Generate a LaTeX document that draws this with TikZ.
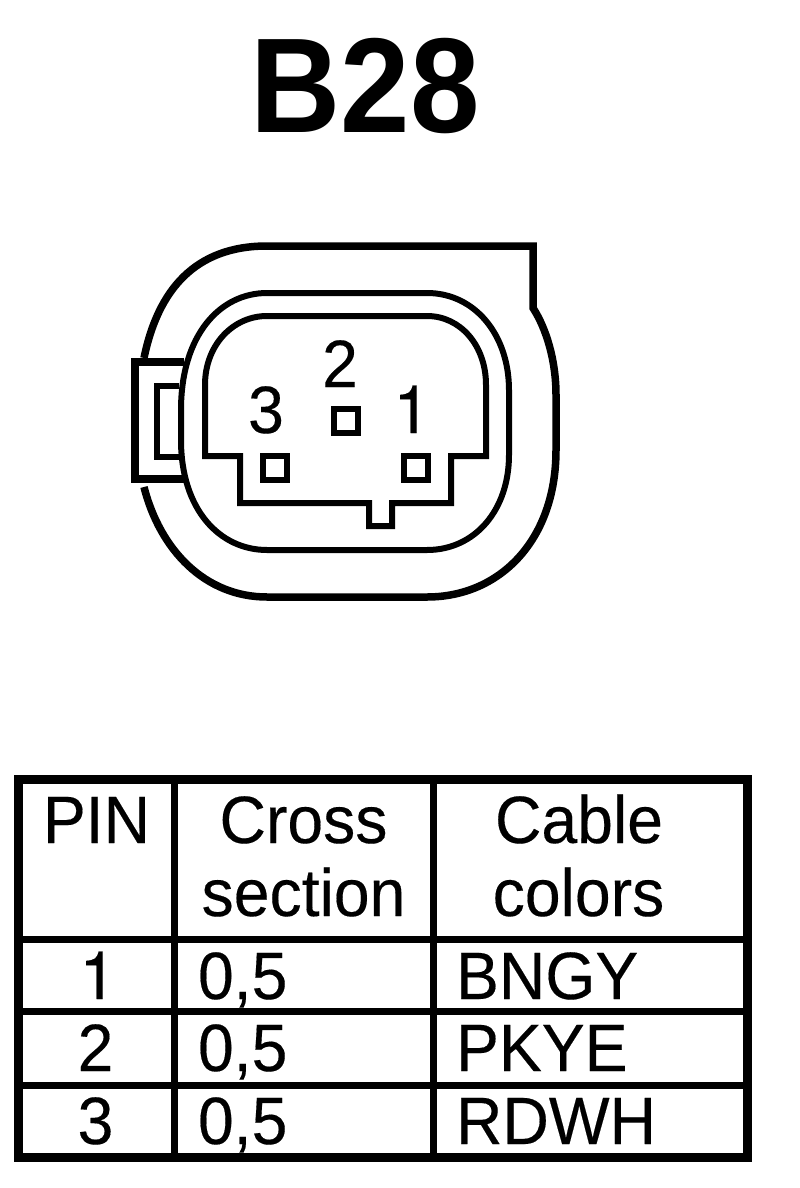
\documentclass[tikz,border=0pt]{standalone}
\usepackage{graphicx}
\usepackage{fontspec}
\setmainfont{Liberation Sans}
\newfontfamily\lblfont[FakeBold=0.25]{Liberation Sans}
\newfontfamily\onefont[FakeBold=0.25]{TeX Gyre Heros}
\newcommand{\bigtxt}{\lblfont\fontsize{67}{67}\selectfont}
\newcommand{\nar}[1]{\scalebox{.96}[1]{#1}}
\tikzset{
  lbl/.style={inner sep=0pt,outer sep=0pt,anchor=base,font=\bigtxt},
  lblw/.style={inner sep=0pt,outer sep=0pt,anchor=base west,font=\bigtxt},
  shell/.style={draw=black,line width=7.5pt,line join=miter},
  collar/.style={draw=black,line width=6pt},
  pinbox/.style={draw=black,line width=6pt,fill=white,minimum size=24pt,inner sep=0pt,outer sep=0pt,shape=rectangle},
  tline/.style={draw=black,line width=7pt},
  tframe/.style={draw=black,line width=9pt,line join=miter}
}
\begin{document}
\begin{tikzpicture}[x=1pt,y=-1pt]
\useasboundingbox (0,0) rectangle (800,1188);
\node[inner sep=0pt,outer sep=0pt,anchor=base,font=\fontsize{135}{135}\selectfont\bfseries] (title) at (365,132) {\scalebox{.925}[1]{B28}};
% outer shell
\draw[shell] (144,358) .. controls (158,290) and (195,246) .. (267,246) -- (533,246) -- (533,308)
  .. controls (546,328) and (556,360) .. (556,395) -- (556,450)
  .. controls (556,540) and (500,597) .. (427,597) -- (267,597)
  .. controls (205,597) and (160,550) .. (144,487);
% collar
\draw[collar] (267,293) -- (427,293) .. controls (475,293) and (509,335) .. (509,390) -- (509,455)
  .. controls (509,510) and (475,550) .. (427,550) -- (267,550)
  .. controls (220,550) and (181,510) .. (181,440) -- (181,410)
  .. controls (181,335) and (220,293) .. (267,293) -- cycle;
% latch
\draw[draw=black,line width=8pt,line join=miter] (184,362) -- (135,362) -- (135,479) -- (184,479);
\draw[draw=black,line width=5.5pt,line join=miter] (179,386) -- (157,386) -- (157,457) -- (179,457);
% cavity
\draw[collar,line join=miter] (267,316) -- (427,316) .. controls (460,316) and (486,345) .. (486,385) -- (486,456)
  -- (451,456) -- (451,503) -- (392,503) -- (392,526) -- (369,526) -- (369,503) -- (240,503) -- (240,456)
  -- (205,456) -- (205,385) .. controls (205,345) and (233,316) .. (267,316) -- cycle;
% pins
\node[pinbox] (p3) at (275,468) {};
\node[pinbox] (p2) at (345.5,421) {};
\node[pinbox] (p1) at (416,468) {};
\node[lbl] (n2) at (340,387) {\nar{2}};
\node[lbl] (n3) at (266,433) {\nar{3}};
\node[lbl] (n1) at (412,433) {\onefont 1};
% table
\draw[tline] (174.7,779) -- (174.7,1157);
\draw[tline] (433,779) -- (433,1157);
\draw[tline] (18,939) -- (748,939);
\draw[tline] (18,1011.5) -- (748,1011.5);
\draw[tline] (18,1085) -- (748,1085);
\draw[tframe] (18.5,779.5) rectangle (747.5,1157.5);
\node[lbl] (h1) at (96.5,843) {\nar{PIN}};
\node[lbl] (h2a) at (303.5,843) {\nar{Cross}};
\node[lbl] (h2b) at (303.5,916) {\nar{section}};
\node[lbl] (h3a) at (579,843) {\nar{Cable}};
\node[lbl] (h3b) at (578.5,916) {\nar{colors}};
\node[lbl] (r1a) at (98,999) {\onefont 1};
\node[lbl] (r2a) at (95.5,1071) {\nar{2}};
\node[lbl] (r3a) at (95.5,1144) {\nar{3}};
\node[lblw] (r1b) at (198,999) {\nar{0,5}};
\node[lblw] (r2b) at (198,1071) {\nar{0,5}};
\node[lblw] (r3b) at (198,1144) {\nar{0,5}};
\node[lblw] (r1c) at (456,999) {\nar{BNGY}};
\node[lblw] (r2c) at (456,1071) {\nar{PKYE}};
\node[lblw] (r3c) at (456,1144) {\nar{RDWH}};
\end{tikzpicture}
\end{document}
